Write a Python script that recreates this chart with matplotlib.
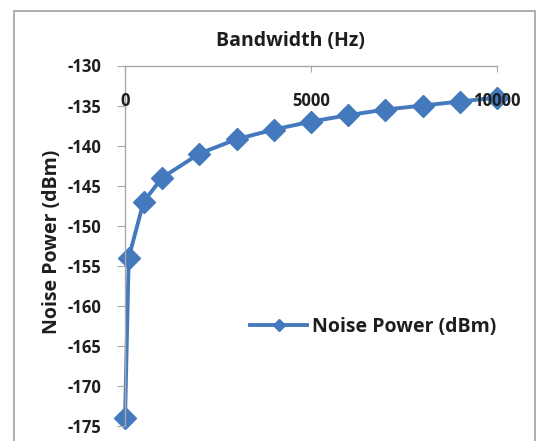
import matplotlib.pyplot as plt
from matplotlib.patches import Rectangle

bandwidth_hz = [1, 100, 500, 1000, 2000, 3000, 4000, 5000, 6000, 7000, 8000, 9000, 10000]
noise_dbm = [-174, -154, -147, -144, -141, -139.2, -138, -137, -136.2, -135.5, -135, -134.5, -134]
x_ticks = [0, 5000, 10000]
y_ticks = [-130, -135, -140, -145, -150, -155, -160, -165, -170, -175]

BLUE = "#4579BE"
TEXT = "#1e1e1e"


def main():
    plt.rcParams["font.family"] = ["Open Sans", "DejaVu Sans"]
    plt.rcParams["axes.unicode_minus"] = False
    fig = plt.figure(figsize=(5.38, 4.41), dpi=100)
    W, H = 538, 441
    ax = fig.add_axes([125 / W, 1 - 426 / H, (497 - 125) / W, (426 - 65.5) / H])

    # outer chart border
    fig.patches.append(Rectangle((14 / W, -0.1), (535 - 14) / W, 1.1 - 11 / H,
                                 transform=fig.transFigure, fill=False,
                                 edgecolor="#a8a8a8", linewidth=1.3))

    ax.plot(bandwidth_hz, noise_dbm, color=BLUE, linewidth=2.8, marker="D",
            markersize=11.5, label="Noise Power (dBm)", clip_on=False, zorder=2)
    # tick labels sit on top of the series, like in excel
    ax.set_axisbelow(False)

    ax.set_xlim(0, 10000)
    ax.set_ylim(-175, -130)
    ax.set_xticks(x_ticks)
    ax.set_yticks(y_ticks)

    for s in ["right", "bottom"]:
        ax.spines[s].set_visible(False)
    for s in ["left", "top"]:
        ax.spines[s].set_color("#a8a8a8")
        ax.spines[s].set_linewidth(1.0)

    ax.xaxis.set_ticks_position("top")
    ax.tick_params(axis="x", direction="in", length=4, color="#a8a8a8",
                   pad=-32, labelsize=12, labelcolor=TEXT)
    ax.tick_params(axis="y", direction="out", length=6, color="#a8a8a8",
                   pad=11, labelsize=12, labelcolor=TEXT)
    for lab in ax.get_xticklabels() + ax.get_yticklabels():
        lab.set_fontweight("bold")

    ax.xaxis.set_label_position("top")
    ax.set_xlabel("Bandwidth (Hz)", fontsize=14, fontweight="bold", color=TEXT)
    ax.xaxis.set_label_coords(0.444, 1.054)
    ax.set_ylabel("Noise Power (dBm)", fontsize=14, fontweight="bold", color=TEXT)
    ax.yaxis.set_label_coords(-0.17, 0.51)

    leg = ax.legend(loc="center left", bbox_to_anchor=(0.29, 0.275), frameon=False,
                    fontsize=14, handlelength=2.9, handletextpad=0.25,
                    markerscale=0.55)
    for t in leg.get_texts():
        t.set_fontweight("bold")
        t.set_color(TEXT)

    fig.savefig("out.png", dpi=100)


if __name__ == "__main__":
    main()
